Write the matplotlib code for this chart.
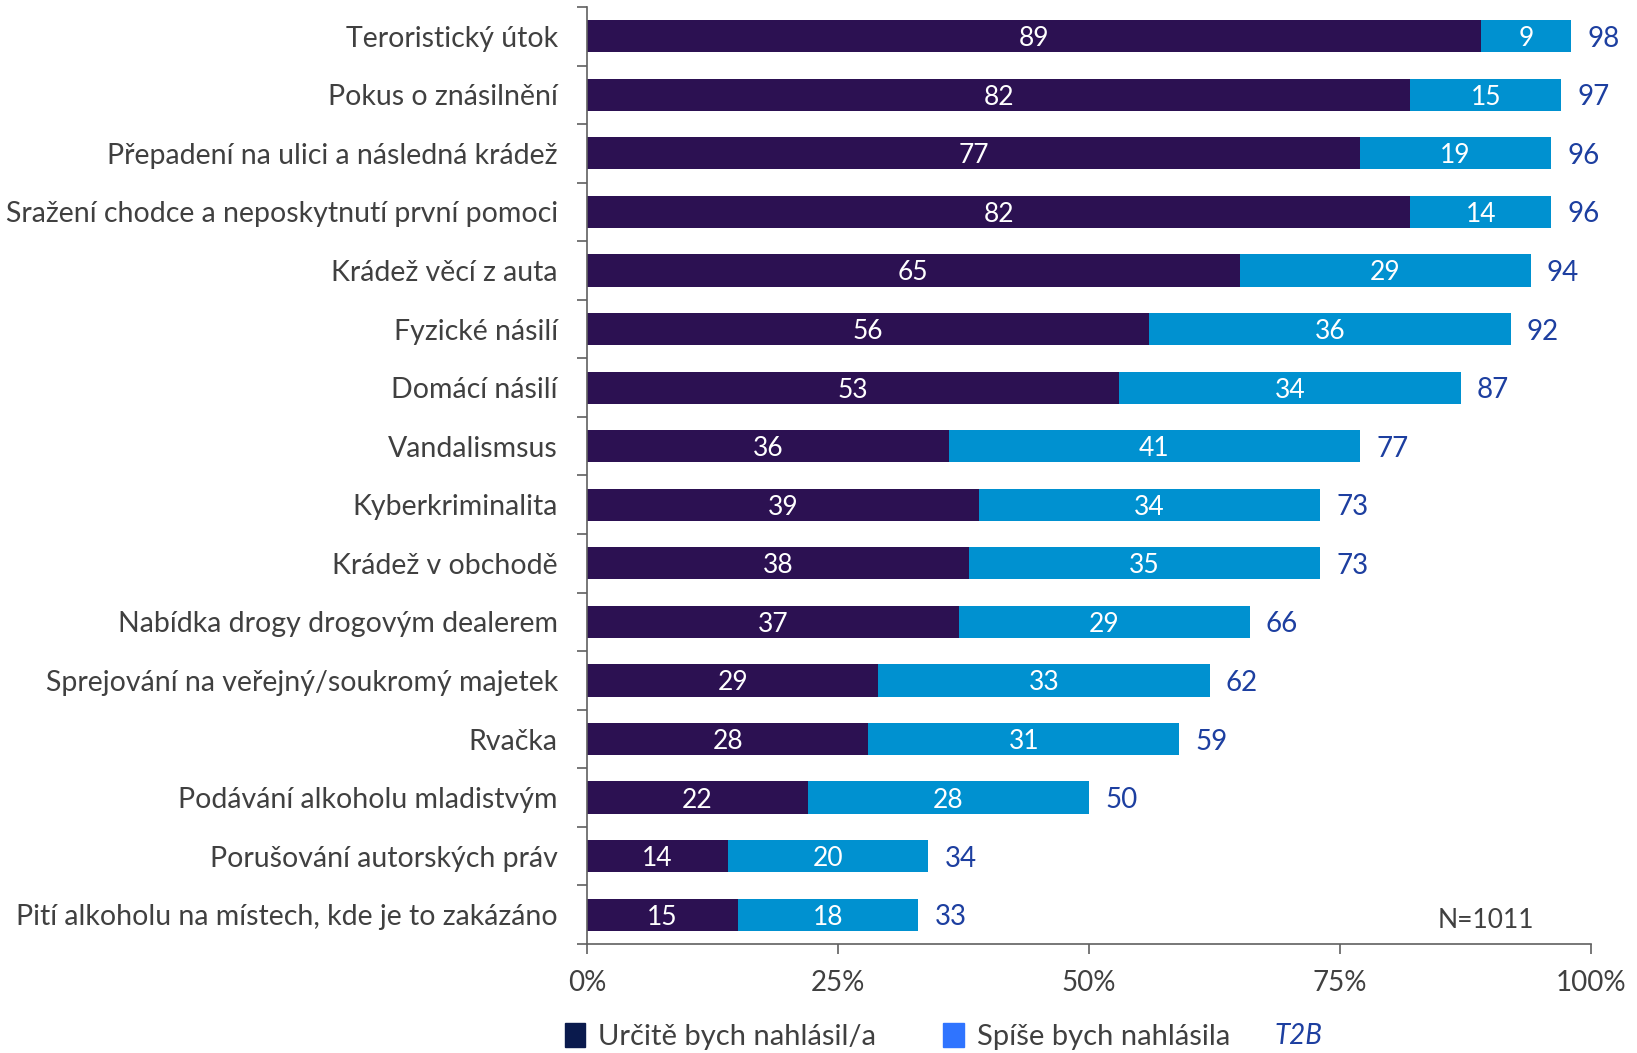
import matplotlib.pyplot as plt
from matplotlib.patches import Patch
import numpy as np

plt.rcParams["font.family"] = ["Lato", "DejaVu Sans"]

categories = [
    "Teroristický útok",
    "Pokus o znásilnění",
    "Přepadení na ulici a následná krádež",
    "Sražení chodce a neposkytnutí první pomoci",
    "Krádež věcí z auta",
    "Fyzické násilí",
    "Domácí násilí",
    "Vandalismsus",
    "Kyberkriminalita",
    "Krádež v obchodě",
    "Nabídka drogy drogovým dealerem",
    "Sprejování na veřejný/soukromý majetek",
    "Rvačka",
    "Podávání alkoholu mladistvým",
    "Porušování autorských práv",
    "Pití alkoholu na místech, kde je to zakázáno",
]
definitely = [89, 82, 77, 82, 65, 56, 53, 36, 39, 38, 37, 29, 28, 22, 14, 15]
rather = [9, 15, 19, 14, 29, 36, 34, 41, 34, 35, 29, 33, 31, 28, 20, 18]
totals = [98, 97, 96, 96, 94, 92, 87, 77, 73, 73, 66, 62, 59, 50, 34, 33]
xticks = [0, 25, 50, 75, 100]

DARK = "#2c1152"
LIGHT = "#0091d0"
TOTAL = "#1d3fa0"
TEXT = "#404040"

fig = plt.figure(figsize=(16.37, 10.53), dpi=100)
ax = fig.add_axes([0.3586, 0.1035, 0.6134, 0.8899])

y = np.arange(len(categories))
ax.barh(y, definitely, height=0.55, color=DARK)
ax.barh(y, rather, left=definitely, height=0.55, color=LIGHT)

for yi, d, r, t in zip(y, definitely, rather, totals):
    ax.text(d / 2, yi, str(d), ha="center", va="center_baseline", color="white", fontsize=19)
    ax.text(d + r / 2, yi, str(r), ha="center", va="center_baseline", color="white", fontsize=19)
    ax.text(t + 1.6, yi, str(t), ha="left", va="center_baseline", color=TOTAL, fontsize=20)

ax.set_xlim(0, 100)
ax.set_ylim(len(categories) - 0.5, -0.5)
ax.set_xticks(xticks)
ax.set_xticklabels([f"{v}%" for v in xticks], fontsize=20, color=TEXT)
ax.set_yticks(y)
ax.set_yticklabels(categories, fontsize=20.5, color=TEXT)
ax.set_yticks(np.arange(len(categories) + 1) - 0.5, minor=True)
ax.tick_params(axis="y", which="major", length=0, pad=21)
ax.tick_params(axis="y", which="minor", length=7, width=1.2, color="#606060")
ax.tick_params(axis="x", length=7, width=1.2, color="#606060", pad=12)

for side in ["top", "right"]:
    ax.spines[side].set_visible(False)
for side in ["left", "bottom"]:
    ax.spines[side].set_color("#606060")
    ax.spines[side].set_linewidth(1.2)

ax.text(89.5, 15.05, "N=1011", ha="center", va="center_baseline", fontsize=19, color=TEXT)

handles = [
    Patch(color="#0a1a4d", label="Určitě bych nahlásil/a"),
    Patch(color="#2f74ff", label="Spíše bych nahlásila"),
]
leg = fig.legend(handles=handles, loc="center left", bbox_to_anchor=(0.345, 0.016),
                 ncol=2, frameon=False, fontsize=21, handlelength=0.7,
                 handleheight=0.9, handletextpad=0.45, columnspacing=2.3,
                 borderpad=0, borderaxespad=0)
for txt in leg.get_texts():
    txt.set_color(TEXT)
fig.text(0.793, 0.016, "T2B", fontsize=20, color=TOTAL, style="italic",
         ha="center", va="center")

fig.savefig("out.png", dpi=100)
